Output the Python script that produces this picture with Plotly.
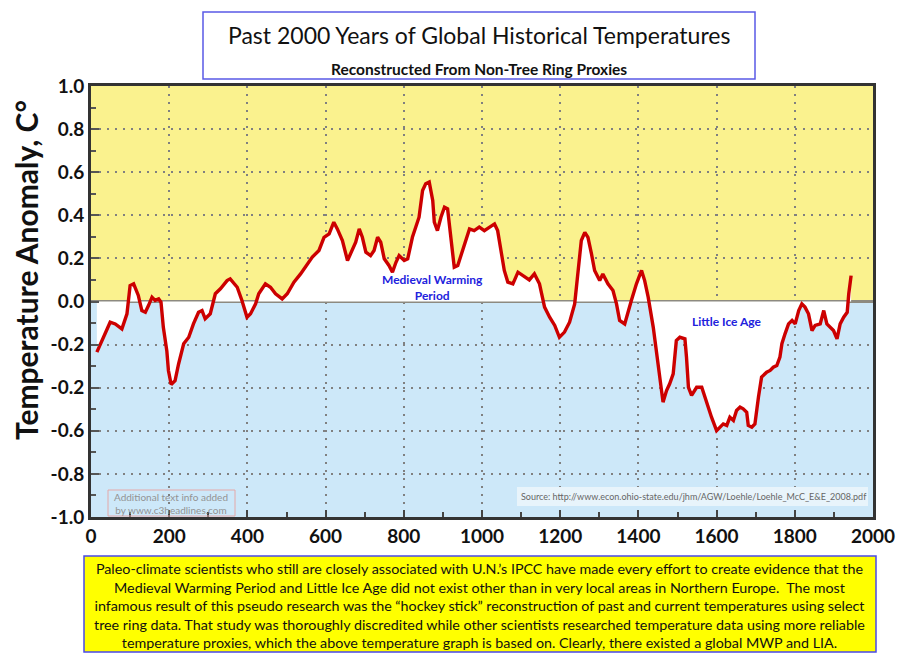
import plotly.graph_objects as go

# ---- data ----
years = [15, 32, 49, 62, 79, 92, 100, 109, 121, 130, 139, 147, 156, 164, 173, 179, 185, 194, 198, 205,
         215, 224, 237, 250, 262, 275, 284, 292, 305, 318, 331, 348, 356, 374, 386, 399, 408, 421, 429, 446,
         459, 472, 489, 502, 519, 536, 549, 566, 583, 596, 609, 621, 630, 643, 656, 668, 677, 686, 694, 703,
         715, 724, 733, 741, 750, 762, 771, 780, 788, 801, 810, 822, 831, 839, 848, 856, 865, 874, 878, 886,
         895, 904, 912, 921, 929, 938, 951, 959, 968, 980, 993, 1006, 1019, 1032, 1040, 1049, 1057, 1066, 1079, 1092,
         1104, 1121, 1134, 1147, 1160, 1173, 1186, 1198, 1211, 1224, 1237, 1246, 1254, 1263, 1271, 1280, 1288, 1301, 1309, 1322,
         1335, 1344, 1352, 1365, 1374, 1382, 1395, 1408, 1416, 1425, 1438, 1446, 1455, 1459, 1463, 1472, 1480, 1489, 1497, 1506,
         1519, 1523, 1528, 1536, 1549, 1562, 1570, 1579, 1587, 1600, 1609, 1617, 1626, 1634, 1643, 1651, 1660, 1668, 1677, 1681,
         1690, 1698, 1707, 1715, 1728, 1737, 1745, 1754, 1762, 1767, 1775, 1784, 1793, 1801, 1810, 1818, 1826, 1835, 1844, 1852,
         1865, 1874, 1882, 1891, 1899, 1908, 1916, 1925, 1934, 1938, 1944]
anomaly = [-0.235, -0.166, -0.096, -0.104, -0.127, -0.057, 0.074, 0.082, 0.028, -0.042, -0.05, -0.019, 0.02, 0.005, 0.012, -0.003, -0.12, -0.23, -0.32, -0.385,
           -0.367, -0.29, -0.196, -0.166, -0.104, -0.05, -0.042, -0.08, -0.057, 0.036, 0.059, 0.097, 0.105, 0.066, 0.005, -0.073, -0.057, -0.011, 0.036, 0.082,
           0.066, 0.036, 0.012, 0.036, 0.09, 0.128, 0.159, 0.206, 0.237, 0.298, 0.314, 0.368, 0.337, 0.283, 0.19, 0.237, 0.275, 0.337, 0.298, 0.229,
           0.213, 0.237, 0.298, 0.275, 0.198, 0.167, 0.136, 0.182, 0.213, 0.19, 0.198, 0.298, 0.345, 0.391, 0.515, 0.546, 0.554, 0.469, 0.368, 0.329,
           0.391, 0.438, 0.43, 0.298, 0.159, 0.167, 0.237, 0.283, 0.337, 0.329, 0.345, 0.329, 0.345, 0.36, 0.329, 0.237, 0.144, 0.09, 0.082, 0.136,
           0.12, 0.1, 0.128, 0.082, -0.026, -0.073, -0.111, -0.166, -0.142, -0.096, -0.011, 0.144, 0.283, 0.321, 0.298, 0.221, 0.144, 0.097, 0.128, 0.082,
           0.051, -0.011, -0.088, -0.104, -0.042, 0.005, 0.082, 0.144, 0.097, 0.02, -0.12, -0.227, -0.336, -0.413, -0.467, -0.413, -0.382, -0.336, -0.181, -0.166,
           -0.173, -0.258, -0.398, -0.436, -0.398, -0.398, -0.444, -0.49, -0.537, -0.599, -0.583, -0.568, -0.575, -0.537, -0.552, -0.506, -0.49, -0.498, -0.514, -0.575,
           -0.583, -0.568, -0.444, -0.351, -0.328, -0.32, -0.305, -0.297, -0.258, -0.196, -0.15, -0.104, -0.088, -0.104, -0.042, -0.011, -0.026, -0.057, -0.135, -0.111,
           -0.104, -0.042, -0.104, -0.119, -0.135, -0.173, -0.104, -0.073, -0.05, 0.036, 0.12]

y_tick_values = [1.0, 0.8, 0.6, 0.4, 0.2, 0.0, -0.2, -0.4, -0.6, -0.8, -1.0]
y_tick_labels = ["1.0", "0.8", "0.6", "0.4", "0.2", "0.0", "-0.2", "-0.2", "-0.6", "-0.8", "-1.0"]
x_tick_values = [0, 200, 400, 600, 800, 1000, 1200, 1400, 1600, 1800, 2000]

title_text = "Past 2000 Years of Global Historical Temperatures"
subtitle_text = "Reconstructed From Non-Tree Ring Proxies"
y_title = "Temperature Anomaly, C°"
note_text = ("Paleo-climate scientists who still are closely associated with U.N.’s IPCC have made every effort to create evidence that the<br>"
             "Medieval Warming Period and Little Ice Age did not exist other than in very local areas in Northern Europe.  The most<br>"
             "infamous result of this pseudo research was the “hockey stick” reconstruction of past and current temperatures using select<br>"
             "tree ring data. That study was thoroughly discredited while other scientists researched temperature data using more reliable<br>"
             "temperature proxies, which the above temperature graph is based on. Clearly, there existed a global MWP and LIA.")
source_text = "Source: http://www.econ.ohio-state.edu/jhm/AGW/Loehle/Loehle_McC_E&E_2008.pdf"
credit_text = "Additional text info added<br>by www.c3headlines.com"

YELLOW = "#FAF28E"
BLUE = "#CDE8F9"
RED = "#CC0000"
FONT = "Lato"
GRID = "#808080"
GRID_DASH = "2px,6px"

# The page body has an 8px margin, so the figure is 8px smaller than the window.
PLOT_L, PLOT_R, PLOT_T, PLOT_B = 91, 873, 86, 517   # plot area in window pixels
OFF = 8
FIG_W, FIG_H = 906 - OFF, 654 - OFF
PW, PH = PLOT_R - PLOT_L, PLOT_B - PLOT_T


def px(x):
    return (x - PLOT_L) / PW


def py(y):
    return (PLOT_B - y) / PH


fig = go.Figure()
fig.add_trace(go.Scatter(x=years, y=anomaly, mode="lines", fill="tozeroy",
                         fillcolor="white", line=dict(color=RED, width=3.4),
                         hoverinfo="skip", showlegend=False))

shapes = [
    dict(type="rect", xref="paper", yref="y", x0=0, x1=1, y0=0, y1=1,
         fillcolor=YELLOW, line=dict(width=0), layer="below"),
    dict(type="rect", xref="paper", yref="y", x0=0, x1=1, y0=-1, y1=0,
         fillcolor=BLUE, line=dict(width=0), layer="below"),
    # title box
    dict(type="rect", xref="paper", yref="paper", x0=px(203), x1=px(755), y0=py(79), y1=py(12),
         fillcolor="white", line=dict(color="#5a5ae6", width=1.5)),
    # bottom note box
    dict(type="rect", xref="paper", yref="paper", x0=px(84), x1=px(876), y0=py(652), y1=py(556),
         fillcolor="#FFFF00", line=dict(color="#4a4ae8", width=1.5)),
    # source background
    dict(type="rect", xref="paper", yref="paper", x0=px(517), x1=px(868), y0=py(506), y1=py(487),
         fillcolor="#E8F4FB", line=dict(width=0)),
    # credit box
    dict(type="rect", xref="paper", yref="paper", x0=px(108), x1=px(235), y0=py(516), y1=py(490),
         fillcolor="rgba(0,0,0,0)", line=dict(color="#e4a8a8", width=1)),
]

common = dict(showarrow=False, xanchor="center", yanchor="middle")
annotations = [
    dict(text=title_text, xref="paper", yref="paper", x=px(479), y=py(35),
         font=dict(family=FONT, size=23, color="#111"), **common),
    dict(text="<b>" + subtitle_text + "</b>", xref="paper", yref="paper", x=px(479), y=py(69),
         font=dict(family=FONT, size=15.5, color="#111"), **common),
    dict(text="<b>" + y_title + "</b>", xref="paper", yref="paper", x=px(26), y=py(270),
         textangle=-90, font=dict(family=FONT, size=30, color="#111"), **common),
    dict(text="<b>Medieval Warming<br>Period</b>", x=874, y=0.065,
         font=dict(family=FONT, size=12, color="#2222dd"), **common),
    dict(text="<b>Little Ice Age</b>", x=1626, y=-0.093,
         font=dict(family=FONT, size=12, color="#2222dd"), **common),
    dict(text=note_text, xref="paper", yref="paper", x=px(479), y=py(605),
         align="center", font=dict(family=FONT, size=14.3, color="#111"), **common),
    dict(text=source_text, xref="paper", yref="paper", x=px(694), y=py(496),
         font=dict(family=FONT, size=9, color="#666"), **common),
    dict(text=credit_text, xref="paper", yref="paper", x=px(171), y=py(503),
         font=dict(family=FONT, size=10, color="#939393"), **common),
]

fig.update_layout(
    width=FIG_W, height=FIG_H,
    margin=dict(l=PLOT_L - OFF, r=906 - PLOT_R, t=PLOT_T - OFF, b=FIG_H - (PLOT_B - OFF)),
    paper_bgcolor="white", plot_bgcolor=BLUE,
    shapes=shapes, annotations=annotations, showlegend=False,
    xaxis=dict(range=[0, 2000], tickvals=x_tick_values,
               ticktext=["<b>" + str(v) + "</b>" for v in x_tick_values],
               ticks="inside", ticklen=7,
               tickwidth=2, tickcolor="#444", showline=True, linewidth=3, linecolor="#333",
               mirror=True, showgrid=True, gridcolor=GRID, griddash=GRID_DASH, gridwidth=2,
               zeroline=False, minor=dict(dtick=100, ticks="inside", ticklen=5, tickcolor="#444"),
               tickfont=dict(family=FONT, size=19, color="#111"), ticklabelstandoff=0),
    yaxis=dict(range=[-1, 1], tickvals=y_tick_values, ticktext=["<b>" + t + "</b>" for t in y_tick_labels],
               ticks="inside", ticklen=8, tickwidth=2, tickcolor="#555",
               showline=True, linewidth=3, linecolor="#333", mirror=True,
               showgrid=True, gridcolor=GRID, griddash=GRID_DASH, gridwidth=2,
               zeroline=True, zerolinecolor="#8d8a80", zerolinewidth=2.5,
               minor=dict(dtick=0.1, ticks="inside", ticklen=5, tickcolor="#555"),
               tickfont=dict(family=FONT, size=19, color="#111")),
)

fig.write_html("out.html")
